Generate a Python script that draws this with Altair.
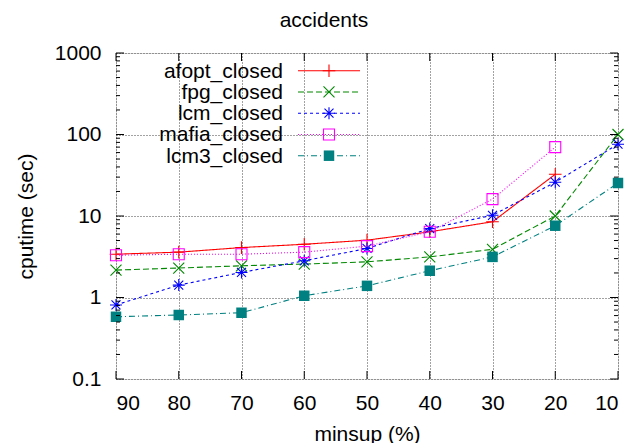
import altair as alt
import pandas as pd

# ---- data ----
minsup = [90, 80, 70, 60, 50, 40, 30, 20, 10]
afopt_closed = [3.4, 3.6, 4.1, 4.5, 5.05, 6.4, 8.5, 32.5, None]
fpg_closed = [2.17, 2.3, 2.45, 2.57, 2.74, 3.15, 3.9, 10.0, 100.0]
lcm_closed = [0.81, 1.42, 2.03, 2.82, 4.0, 7.0, 10.2, 26.0, 76.0]
mafia_closed = [3.3, 3.4, 3.4, 3.6, 4.27, 6.4, 16.1, 70.0, None]
lcm3_closed = [0.58, 0.61, 0.65, 1.05, 1.39, 2.13, 3.15, 7.6, 25.4]

series_names = ["afopt_closed", "fpg_closed", "lcm_closed", "mafia_closed", "lcm3_closed"]
series_values = [afopt_closed, fpg_closed, lcm_closed, mafia_closed, lcm3_closed]
chart_title = "accidents"

x_ticks = [90, 80, 70, 60, 50, 40, 30, 20, 10]
y_ticks = [0.1, 1, 10, 100, 1000]
y_minor = [m * d for d in [0.1, 1, 10, 100] for m in range(2, 10)]

# ---- styles ----
PLUS = "M-1,0L1,0M0,-1L0,1"
CROSS = "M-1,-1L1,1M-1,1L1,-1"
STAR = "M-1,0L1,0M0,-1L0,1M-0.75,-0.75L0.75,0.75M-0.75,0.75L0.75,-0.75"
styles = {
    "afopt_closed": dict(color="#ff0000", dash=[1, 0], shape=PLUS, size=160, filled=False),
    "fpg_closed": dict(color="#008800", dash=[6, 3], shape=CROSS, size=121, filled=False),
    "lcm_closed": dict(color="#0000ff", dash=[3, 3], shape=STAR, size=144, filled=False),
    "mafia_closed": dict(color="#ff00ff", dash=[1, 2], shape="square", size=121, filled=False),
    "lcm3_closed": dict(color="#008080", dash=[6, 3, 1, 3], shape="square", size=110, filled=True),
}

W, H = 502, 326
FONT = "Liberation Sans"
FS = 21

xscale = alt.Scale(domain=[10, 90], reverse=True, nice=False, zero=False)
yscale = alt.Scale(type="log", domain=[0.1, 1000], nice=False)

xaxis = alt.Axis(values=x_ticks, title="minsup (%)", grid=True, gridDash=[1, 2],
                 gridColor="#444444", gridWidth=1, domain=False, ticks=False, tickSize=0,
                 labelPadding=30, labelBaseline="alphabetic", labelFont=FONT, labelFontSize=FS,
                 labelColor="black", labelFontWeight="normal",
                 titleFont=FONT, titleFontSize=FS, titleFontWeight="normal", titleColor="black",
                 titleX=W / 2, titleY=61, titleBaseline="alphabetic", titleAlign="center")
yaxis = alt.Axis(values=y_ticks, format="~g", title="cputime (sec)", grid=True, gridDash=[1, 2],
                 gridColor="#444444", gridWidth=1, domain=False, ticks=False, tickSize=0,
                 labelPadding=15, labelFont=FONT, labelFontSize=FS, labelColor="black",
                 titleFont=FONT, titleFontSize=FS, titleFontWeight="normal", titleColor="black",
                 titleAngle=-90, titleX=-90, titleY=H / 2, titleBaseline="middle", titleAlign="center")

layers = []

for name, vals in zip(series_names, series_values):
    st = styles[name]
    df = pd.DataFrame({"minsup": minsup, "value": vals}).dropna()
    base = alt.Chart(df).encode(
        x=alt.X("minsup:Q", scale=xscale, axis=xaxis),
        y=alt.Y("value:Q", scale=yscale, axis=yaxis),
    )
    line = base.mark_line(color=st["color"], strokeDash=st["dash"], strokeWidth=1.1)
    pts = base.mark_point(shape=st["shape"], size=st["size"], filled=st["filled"],
                          color=st["color"], strokeWidth=1.1, opacity=1)
    layers += [line, pts]

# inward ticks (gnuplot style)
xt = pd.DataFrame({"minsup": x_ticks})
for y0, y1 in [(H, H - 8), (0, 8)]:
    layers.append(alt.Chart(xt).mark_rule(color="black", strokeWidth=1).encode(
        x=alt.X("minsup:Q", scale=xscale, axis=xaxis), y=alt.value(y0), y2=alt.value(y1)))
yt = pd.DataFrame({"value": y_ticks})
ym = pd.DataFrame({"value": y_minor})
for dfv, ln in [(yt, 8), (ym, 4)]:
    for x0, x1 in [(0, ln), (W, W - ln)]:
        layers.append(alt.Chart(dfv).mark_rule(color="black", strokeWidth=1).encode(
            y=alt.Y("value:Q", scale=yscale, axis=yaxis), x=alt.value(x0), x2=alt.value(x1)))

# key (gnuplot style: label, then line sample with symbol)
one = pd.DataFrame({"k": [0]})
for i, name in enumerate(series_names):
    st = styles[name]
    ry = 17.7 + i * 21.25
    layers.append(alt.Chart(one).mark_text(align="right", baseline="alphabetic", dy=7,
                                           font=FONT, fontSize=FS, color="black").encode(
        x=alt.value(167), y=alt.value(ry), text=alt.value(name)))
    layers.append(alt.Chart(one).mark_rule(color=st["color"], strokeDash=st["dash"], strokeWidth=1.1).encode(
        x=alt.value(182), x2=alt.value(244), y=alt.value(ry)))
    layers.append(alt.Chart(one).mark_point(shape=st["shape"], size=st["size"], filled=st["filled"],
                                            color=st["color"], strokeWidth=1.1, opacity=1).encode(
        x=alt.value(213), y=alt.value(ry)))

# chart title (gnuplot centres it on the canvas, left of the plot centre)
layers.append(alt.Chart(one).mark_text(align="center", baseline="alphabetic",
                                       font=FONT, fontSize=FS, color="black").encode(
    x=alt.value(W / 2 - 43), y=alt.value(-26), text=alt.value(chart_title)))

chart = alt.layer(*layers).properties(
    width=W, height=H,
    autosize=alt.AutoSizeParams(type="none"),
    padding={"left": 108, "top": 45, "right": 18, "bottom": 64},
).configure_view(stroke="black", strokeWidth=1).configure(background="white")

chart.save("out.html", embed_options={"renderer": "svg", "actions": False})
